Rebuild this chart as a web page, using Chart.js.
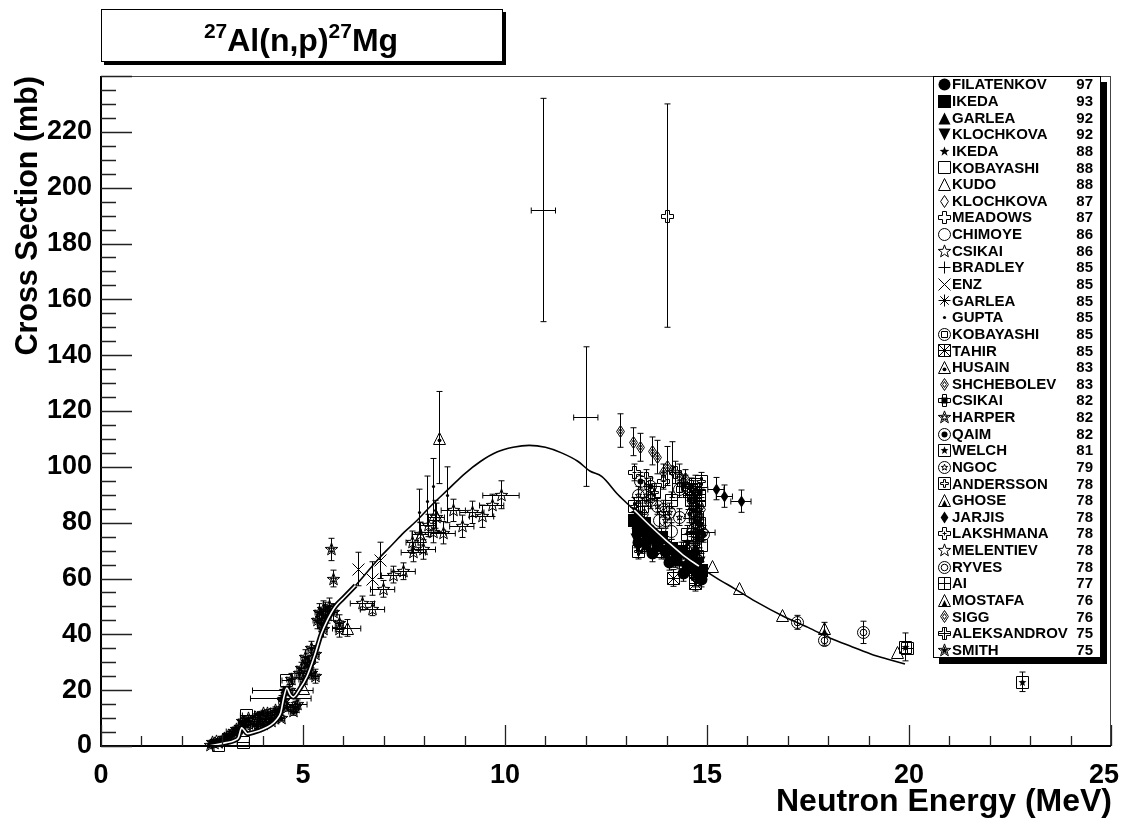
<!DOCTYPE html>
<html lang="en">
<head>
<meta charset="UTF-8">
<title>27Al(n,p)27Mg</title>
<script src="https://cdn.jsdelivr.net/npm/chart.js@4.4.0/dist/chart.umd.min.js"></script>
<style>
  html, body { margin: 0; padding: 0; background: #fff; }
  #wrap { position: relative; width: 1124px; height: 823px; }
</style>
</head>
<body>
<div id="wrap"><canvas id="xs" width="1124" height="823"></canvas></div>
<script>
// axes
const xTicks = [0, 5, 10, 15, 20, 25];
const yTicks = [0, 20, 40, 60, 80, 100, 120, 140, 160, 180, 200, 220];

// evaluated curve (MeV, mb)
const curveX = [2.65, 2.9, 3.1, 3.3, 3.4, 3.48, 3.55, 3.62, 3.8, 4.0, 4.2, 4.35, 4.45, 4.52, 4.6, 4.68, 4.76, 4.9, 5.1, 5.3, 5.45, 5.6, 5.8, 6.0, 6.3, 6.6, 6.9, 7.2, 7.5, 7.8, 8.2, 8.6, 9.0, 9.4, 9.8, 10.2, 10.6, 11.0, 11.4, 11.8, 12.1, 12.4, 12.8, 13.2, 13.6, 14.0, 14.4, 14.8, 15.2, 15.7, 16.2, 16.9, 17.5, 18.1, 18.6, 19.1, 19.5, 19.9];
const curveY = [0, 0.6, 1.2, 2.0, 3.0, 6.5, 5.5, 4.4, 5.0, 6.0, 7.5, 9.5, 12, 17, 20.8, 18.5, 17.5, 20, 25, 33, 40, 45, 50, 53, 57.5, 62.5, 67.5, 72, 76.5, 80.5, 86.5, 92, 97.5, 102, 105.3, 107, 107.7, 107, 105, 102, 98.5, 96.5, 90, 84.5, 78.8, 73.5, 68.5, 64.4, 60.5, 56.2, 51.8, 46.4, 42.5, 38.3, 35.5, 32.7, 31, 29.4];
// ranges where the curve is drawn doubled
const doubleRanges = [[2.65, 6.3], [13.1, 15.0]];

// measurements: [energy, sigma, dE, dSigma]
const filatenkov97 = [[13.4, 77, 0, 3], [13.55, 74, 0, 3], [13.75, 72, 0, 3], [13.95, 70, 0, 3], [14.2, 67, 0, 3], [14.5, 65, 0, 3], [14.75, 62, 0, 3], [13.3, 73, 0, 3], [13.65, 69, 0, 3], [14.05, 66, 0, 3], [14.4, 62, 0, 3], [14.85, 60, 0, 3]];
const ikeda93 = [[13.2, 81, 0, 3], [13.3, 78, 0, 3], [13.6, 76, 0, 3], [14.1, 71, 0, 3], [14.6, 68, 0, 3], [14.85, 63, 0, 3], [13.45, 80, 0, 3], [13.85, 75, 0, 3], [14.35, 70, 0, 3], [14.7, 64, 0, 3]];
const garlea92 = [[13.5, 72.5, 0, 3], [14.3, 66.5, 0, 3], [14.7, 71, 0, 3]];
const klochkova92 = [[13.25, 74, 0, 3], [14.0, 69, 0, 3], [14.8, 66, 0, 3]];
const ikeda88 = [[4.5, 20.1, 0.75, 1], [4.45, 17.1, 0.75, 1], [3.9, 11, 0.4, 1], [13.3, 84, 0, 3], [14.5, 73, 0, 3], [14.75, 76, 0, 3]];
const kobayashi88 = [[2.9, 0.5, 0.1, 0], [3.52, 1.5, 0.15, 0], [3.6, 11, 0.15, 0], [4.58, 23.6, 0.1, 0], [14.75, 82, 0, 4], [14.8, 90, 0, 4], [14.65, 75, 0, 3], [14.85, 72, 0, 3], [14.7, 94, 0, 3]];
const kudo88 = [[15.12, 64.5, 0, 0], [15.78, 56.6, 0, 0], [16.85, 47, 0, 0], [19.7, 33.5, 0, 0], [8.27, 83, 0, 5], [7.9, 75.2, 0, 5], [5.0, 20.7, 0, 0], [6.08, 42.3, 0.35, 3]];
const klochkova87 = [[13.45, 83, 0, 3], [14.7, 79, 0, 3], [14.85, 85, 0, 4], [14.65, 83, 0, 3], [14.8, 74, 0, 3]];
const meadows87 = [[14.0, 190, 0, 40], [14.7, 92, 0, 3]];
const chimoye86 = [[13.8, 81, 0, 3], [14.1, 77, 0, 3]];
const csikai86 = [[6.47, 51.2, 0.3, 2.5], [6.72, 49.2, 0.3, 2.5], [6.97, 56.3, 0.3, 3], [7.24, 61.4, 0.3, 3], [7.48, 62.6, 0.3, 3], [7.73, 69.5, 0.3, 3.5], [7.98, 70.4, 0.3, 3.5], [8.23, 76.8, 0.3, 4], [8.47, 76.4, 0.3, 4], [8.72, 84.4, 0.3, 4], [8.93, 78.7, 0.3, 4], [9.18, 83.7, 0.3, 4], [9.42, 82.3, 0.3, 4], [9.67, 86.2, 0.3, 4], [9.9, 90, 0.45, 5]];
const bradley85 = [[10.95, 192, 0.3, 40], [12.0, 118, 0.3, 25]];
const enz85 = [[6.35, 63.4, 0, 6], [6.7, 60, 0, 6], [6.9, 66.5, 0, 6.5]];
const garlea85 = [[14.6, 85, 0, 3], [14.8, 77, 0, 3], [14.7, 90, 0, 3]];
const gupta85 = [[7.86, 84, 0, 8], [8.06, 87.7, 0, 9], [8.23, 93, 0, 10], [8.56, 90, 0, 10]];
const kobayashi85 = [[14.3, 92, 0, 3], [14.65, 88, 0, 3]];
const tahir85 = [[14.17, 60.2, 0, 3], [14.7, 58.5, 0, 3], [13.6, 73, 0, 3], [13.85, 70, 0, 3], [14.75, 62, 0, 3], [13.4, 72, 0, 3]];
const husain83 = [[8.37, 110.5, 0, 16.5], [14.55, 84, 0, 4]];
const shchebolev83 = [[12.85, 113, 0, 6], [13.18, 109, 0, 5], [13.34, 107, 0, 5], [13.63, 105.7, 0, 5], [13.75, 103.5, 0, 6], [14.0, 100.3, 0, 7], [14.13, 99, 0, 10], [14.3, 97, 0, 4], [14.45, 93, 0, 4]];
const csikai82 = [[14.4, 94, 0, 3], [14.6, 93, 0, 3], [14.8, 91, 0, 3], [14.75, 74, 0, 3]];
const harper82 = [[2.85, 1.8, 0.1, 0.5], [3.05, 3.0, 0.1, 0.5], [3.3, 5.5, 0.2, 0.6], [3.55, 8.5, 0.15, 0.8], [3.8, 10.5, 0.15, 1], [4.0, 11.8, 0.2, 1], [4.2, 9.0, 0.2, 1], [4.4, 12.8, 0.1, 1.2], [4.75, 12.5, 0.1, 1.5], [4.85, 15, 0.25, 1.5], [4.95, 28, 0.1, 2], [5.1, 30, 0.1, 2], [5.2, 26, 0.1, 2], [5.3, 25, 0.1, 2.5], [5.35, 45, 0.1, 3], [5.5, 49, 0.1, 3], [5.7, 70.4, 0, 4], [5.75, 60, 0, 3]];
const qaim82 = [[13.35, 95, 0, 3], [13.6, 93, 0, 3], [14.7, 80.5, 0, 3], [14.9, 76, 0, 3], [14.65, 70, 0, 3], [14.85, 76.5, 0.35, 3], [14.75, 86, 0, 3], [14.6, 64, 0, 3]];
const welch81 = [[19.9, 35.5, 0, 5], [22.8, 23, 0, 3.5]];
const ngoc79 = [[13.5, 90, 0, 3], [13.75, 86, 0, 3], [13.95, 81, 0, 3], [14.05, 84, 0, 3], [13.3, 90, 0, 3], [13.6, 88, 0, 3], [14.3, 82, 0, 3]];
const andersson78 = [[14.7, 60, 0, 3], [14.4, 70, 0, 3], [14.85, 95, 0, 3], [13.3, 70, 0, 3], [13.2, 86, 0, 3], [13.7, 91, 0, 3], [14.6, 88, 0, 3], [14.8, 80, 0, 3], [14.75, 68, 0, 3]];
const ghose78 = [[14.7, 86, 0, 3], [14.8, 62, 0, 3]];
const jarjis78 = [[15.22, 92.2, 0.2, 4], [15.43, 89.5, 0.2, 4], [15.84, 87.7, 0.25, 4]];
const lakshmana78 = [[13.2, 98, 0, 3], [13.5, 96, 0, 3], [13.9, 95, 0, 3]];
const melentiev78 = [[5.45, 46, 0.1, 3], [5.55, 48.5, 0.1, 3], [5.9, 42, 0.1, 3], [7.7, 73, 0.15, 4], [7.9, 76, 0.2, 4], [8.1, 79, 0.2, 4], [8.3, 82, 0.2, 5]];
const ryves78 = [[17.22, 44.3, 0, 2.5], [17.9, 38.1, 0, 2], [18.85, 40.7, 0, 4], [13.9, 85, 0, 3]];
const ai77 = [[19.95, 35, 0, 0], [14.1, 88, 0, 3], [13.4, 86, 0, 3], [14.5, 76, 0, 3], [14.8, 88, 0, 3], [14.65, 91, 0, 3]];
const mostafa76 = [[17.9, 42.3, 0, 2], [14.6, 78, 0, 3]];
const sigg76 = [[14.8, 82, 0, 3], [14.45, 96, 0, 3], [14.7, 67, 0, 3], [13.9, 98, 0, 3]];
const aleksandrov75 = [[14.2, 98, 0, 4], [14.55, 90, 0, 4]];
const smith75 = [[2.7, 0.5, 0.05, 0.3], [2.8, 1.0, 0.05, 0.4], [2.9, 1.4, 0.05, 0.4], [3.0, 2.2, 0.05, 0.5], [3.1, 2.8, 0.05, 0.5], [3.2, 3.5, 0.1, 0.5], [3.3, 4.5, 0.1, 0.6], [3.45, 6.8, 0.1, 0.7], [3.6, 7.5, 0.1, 0.8], [3.75, 8.0, 0.1, 0.8], [3.9, 9.0, 0.1, 0.9], [4.05, 9.5, 0.1, 1], [4.2, 10.2, 0.1, 1], [4.35, 11.5, 0.1, 1], [4.5, 16, 0.1, 1.5], [4.65, 20, 0.1, 2], [4.8, 14, 0.1, 2], [5.0, 24, 0.1, 2], [5.15, 29, 0.1, 2.5], [5.3, 33, 0.1, 3], [5.45, 44, 0.1, 3], [5.6, 47, 0.1, 3], [5.75, 48, 0.1, 3], [5.9, 44, 0.1, 3],
  [2.75, 1.5, 0.05, 0.4], [3.15, 4, 0.1, 0.5], [3.35, 6, 0.1, 0.6], [3.5, 9, 0.1, 0.8], [3.65, 10, 0.1, 0.8], [3.85, 7, 0.1, 0.8], [4.0, 8, 0.1, 0.8], [4.1, 12, 0.1, 1], [4.3, 13, 0.1, 1], [4.45, 10, 0.1, 1], [4.6, 14, 0.1, 1.5], [4.7, 24, 0.1, 2], [4.9, 26, 0.1, 2], [5.05, 32, 0.1, 2.5], [5.2, 35, 0.1, 2.5], [5.4, 48, 0.1, 3], [5.5, 42, 0.1, 3], [5.65, 50, 0.1, 3]];

// legend order
const seriesData = [filatenkov97, ikeda93, garlea92, klochkova92, ikeda88, kobayashi88, kudo88, klochkova87, meadows87, chimoye86, csikai86, bradley85, enz85, garlea85, gupta85, kobayashi85, tahir85, husain83, shchebolev83, csikai82, harper82, qaim82, welch81, ngoc79, andersson78, ghose78, jarjis78, lakshmana78, melentiev78, ryves78, ai77, mostafa76, sigg76, aleksandrov75, smith75];
const seriesNames = ['FILATENKOV', 'IKEDA', 'GARLEA', 'KLOCHKOVA', 'IKEDA', 'KOBAYASHI', 'KUDO', 'KLOCHKOVA', 'MEADOWS', 'CHIMOYE', 'CSIKAI', 'BRADLEY', 'ENZ', 'GARLEA', 'GUPTA', 'KOBAYASHI', 'TAHIR', 'HUSAIN', 'SHCHEBOLEV', 'CSIKAI', 'HARPER', 'QAIM', 'WELCH', 'NGOC', 'ANDERSSON', 'GHOSE', 'JARJIS', 'LAKSHMANA', 'MELENTIEV', 'RYVES', 'AI', 'MOSTAFA', 'SIGG', 'ALEKSANDROV', 'SMITH'];
const seriesYears = ['97', '93', '92', '92', '88', '88', '88', '87', '87', '86', '86', '85', '85', '85', '85', '85', '85', '83', '83', '82', '82', '82', '81', '79', '78', '78', '78', '78', '78', '78', '77', '76', '76', '75', '75'];
const seriesMarkers = [
  ['circleF'], ['squareF'], ['triF'], ['triDownF'], ['starSmallF'], ['square'], ['tri'], ['diamond'],
  ['cross'], ['circle'], ['star'], ['plus'], ['x'], ['asterisk'], ['dot'], ['circle', 'squareIn'],
  ['square', 'asteriskIn'], ['tri', 'dotS'], ['diamond', 'diamondIn'], ['cross', 'squareSF'], ['star', 'starIn'],
  ['circle', 'circleS'], ['square', 'starSF'], ['circle', 'starIn'], ['square', 'crossIn'], ['tri', 'triSF'],
  ['diamondF'], ['cross', 'plusIn'], ['star'], ['circle', 'circleIn'], ['square', 'plus'], ['tri', 'triSF'],
  ['diamond', 'diamondIn'], ['cross', 'plus'], ['star', 'starSF']
];

const FONT = '"Liberation Sans", Arial, Helvetica, sans-serif';

function starPath(c, r, ri) {
  for (let k = 0; k < 10; k++) {
    const a = -Math.PI / 2 + k * Math.PI / 5;
    const rr = k % 2 ? ri : r;
    const px = rr * Math.cos(a), py = rr * Math.sin(a);
    if (k === 0) c.moveTo(px, py); else c.lineTo(px, py);
  }
  c.closePath();
}

function crossPath(c, r, w) {
  const p = [[-w, -r], [w, -r], [w, -w], [r, -w], [r, w], [w, w], [w, r], [-w, r], [-w, w], [-r, w], [-r, -w], [-w, -w]];
  p.forEach((q, i) => i ? c.lineTo(q[0], q[1]) : c.moveTo(q[0], q[1]));
  c.closePath();
}

function drawPrim(c, p, r) {
  c.beginPath();
  switch (p) {
    case 'circle': c.arc(0, 0, r, 0, 2 * Math.PI); c.stroke(); break;
    case 'circleF': c.arc(0, 0, r, 0, 2 * Math.PI); c.fill(); break;
    case 'circleIn': c.arc(0, 0, r * 0.55, 0, 2 * Math.PI); c.stroke(); break;
    case 'circleS': c.arc(0, 0, r * 0.5, 0, 2 * Math.PI); c.fill(); break;
    case 'square': c.rect(-r, -r, 2 * r, 2 * r); c.stroke(); break;
    case 'squareF': c.rect(-r - 0.5, -r - 0.5, 2 * r + 1, 2 * r + 1); c.fill(); break;
    case 'squareSF': c.rect(-3, -3, 6, 6); c.fill(); break;
    case 'squareIn': c.rect(-3, -3, 6, 6); c.stroke(); break;
    case 'tri': c.moveTo(0, -r); c.lineTo(r, r); c.lineTo(-r, r); c.closePath(); c.stroke(); break;
    case 'triF': c.moveTo(0, -r); c.lineTo(r, r); c.lineTo(-r, r); c.closePath(); c.fill(); break;
    case 'triDownF': c.moveTo(0, r); c.lineTo(r, -r); c.lineTo(-r, -r); c.closePath(); c.fill(); break;
    case 'triSF': c.moveTo(0, -r * 0.1); c.lineTo(r * 0.5, r); c.lineTo(-r * 0.5, r); c.closePath(); c.fill(); break;
    case 'dotS': c.arc(0, r * 0.3, r * 0.32, 0, 2 * Math.PI); c.fill(); break;
    case 'diamond': c.moveTo(0, -r); c.lineTo(r * 0.65, 0); c.lineTo(0, r); c.lineTo(-r * 0.65, 0); c.closePath(); c.stroke(); break;
    case 'diamondF': c.moveTo(0, -r); c.lineTo(r * 0.65, 0); c.lineTo(0, r); c.lineTo(-r * 0.65, 0); c.closePath(); c.fill(); break;
    case 'diamondIn': c.moveTo(0, -r * 0.5); c.lineTo(r * 0.32, 0); c.lineTo(0, r * 0.5); c.lineTo(-r * 0.32, 0); c.closePath(); c.stroke(); break;
    case 'star': starPath(c, r * 1.1, r * 0.45); c.stroke(); break;
    case 'starIn': starPath(c, r * 0.55, r * 0.23); c.stroke(); break;
    case 'starSF': starPath(c, r * 0.7, r * 0.3); c.fill(); break;
    case 'starSmallF': starPath(c, r * 0.85, r * 0.35); c.fill(); break;
    case 'cross': crossPath(c, r, 2); c.stroke(); break;
    case 'crossIn': crossPath(c, r * 0.65, 1); c.stroke(); break;
    case 'plus': c.moveTo(-r, 0); c.lineTo(r, 0); c.moveTo(0, -r); c.lineTo(0, r); c.stroke(); break;
    case 'plusIn': c.moveTo(-2, 0); c.lineTo(2, 0); c.moveTo(0, -2); c.lineTo(0, 2); c.stroke(); break;
    case 'x': c.moveTo(-r, -r); c.lineTo(r, r); c.moveTo(r, -r); c.lineTo(-r, r); c.stroke(); break;
    case 'asterisk':
      c.moveTo(-r, 0); c.lineTo(r, 0); c.moveTo(0, -r); c.lineTo(0, r);
      c.moveTo(-r * 0.7, -r * 0.7); c.lineTo(r * 0.7, r * 0.7); c.moveTo(r * 0.7, -r * 0.7); c.lineTo(-r * 0.7, r * 0.7); c.stroke(); break;
    case 'asteriskIn':
      c.moveTo(-r, 0); c.lineTo(r, 0); c.moveTo(0, -r); c.lineTo(0, r);
      c.moveTo(-r, -r); c.lineTo(r, r); c.moveTo(r, -r); c.lineTo(-r, r); c.stroke(); break;
    case 'dot': c.arc(0, 0, 1.6, 0, 2 * Math.PI); c.fill(); break;
  }
}

// odd-sized canvas so that 1px strokes land on whole pixels
function makeMarker(parts, r) {
  const s = 2 * r + 5;
  const cv = document.createElement('canvas');
  cv.width = s; cv.height = s;
  const c = cv.getContext('2d');
  c.translate(s / 2, s / 2);
  c.strokeStyle = '#000'; c.fillStyle = '#000'; c.lineWidth = 1;
  parts.forEach(p => drawPrim(c, p, r));
  return cv;
}

const markerImgs = seriesMarkers.map(m => makeMarker(m, 6));

// curve datasets
const curvePts = curveX.map((x, i) => ({ x, y: curveY[i] }));
const doublePts = curveX.map((x, i) => ({
  x, y: doubleRanges.some(r => x >= r[0] && x <= r[1]) ? curveY[i] : null
}));

const datasets = [
  { type: 'line', data: doublePts, borderColor: '#fff', borderWidth: 1.6, pointRadius: 0, cubicInterpolationMode: 'monotone', order: 0 },
  { type: 'line', data: doublePts, borderColor: '#000', borderWidth: 5, pointRadius: 0, cubicInterpolationMode: 'monotone', order: 1 },
  { type: 'line', data: curvePts, borderColor: '#000', borderWidth: 1.6, pointRadius: 0, cubicInterpolationMode: 'monotone', order: 2 }
];
seriesData.forEach((arr, i) => {
  datasets.push({
    type: 'scatter',
    label: seriesNames[i] + ' ' + seriesYears[i],
    data: arr.map(p => ({ x: p[0], y: p[1], ex: p[2], ey: p[3] })),
    pointStyle: false,
    markerImg: markerImgs[i],
    errorBars: true,
    order: 10 + i
  });
});

// error bars under the markers, then markers snapped to whole pixels
const errorBarPlugin = {
  id: 'errorBars',
  beforeDatasetsDraw(chart) {
    const c = chart.ctx, xs = chart.scales.x, ys = chart.scales.y;
    c.save();
    c.strokeStyle = '#000';
    c.lineWidth = 1;
    chart.data.datasets.forEach(ds => {
      if (!ds.errorBars) return;
      ds.data.forEach(p => {
        const px = Math.round(xs.getPixelForValue(p.x)) + 0.5, py = Math.round(ys.getPixelForValue(p.y)) + 0.5;
        c.beginPath();
        if (p.ex > 0) {
          const x0 = xs.getPixelForValue(p.x - p.ex), x1 = xs.getPixelForValue(p.x + p.ex);
          c.moveTo(x0, py); c.lineTo(x1, py);
          c.moveTo(x0, py - 3); c.lineTo(x0, py + 3);
          c.moveTo(x1, py - 3); c.lineTo(x1, py + 3);
        }
        if (p.ey > 0) {
          const y0 = ys.getPixelForValue(p.y - p.ey), y1 = ys.getPixelForValue(p.y + p.ey);
          c.moveTo(px, y0); c.lineTo(px, y1);
          c.moveTo(px - 3, y0); c.lineTo(px + 3, y0);
          c.moveTo(px - 3, y1); c.lineTo(px + 3, y1);
        }
        c.stroke();
      });
    });
    c.restore();
  },
  afterDatasetDraw(chart, args) {
    const ds = chart.data.datasets[args.index];
    if (!ds.markerImg) return;
    const img = ds.markerImg, h = (img.width - 1) / 2;
    args.meta.data.forEach(el => {
      chart.ctx.drawImage(img, Math.round(el.x) - h, Math.round(el.y) - h);
    });
  }
};

function shadowBox(c, x, y, w, h, off) {
  c.fillStyle = '#000';
  c.fillRect(x + off, y + off, w, h);
  c.fillStyle = '#fff';
  c.fillRect(x, y, w, h);
  c.strokeStyle = '#000';
  c.lineWidth = 1;
  c.strokeRect(x + 0.5, y + 0.5, w - 1, h - 1);
}

// ROOT-like frame, ticks, titles and legend
const frameTitlePlugin = {
  id: 'frameTitle',
  afterDraw(chart) {
    const c = chart.ctx, a = chart.chartArea, xs = chart.scales.x, ys = chart.scales.y;
    c.save();

    // frame
    c.strokeStyle = '#444'; c.lineWidth = 1;
    c.strokeRect(a.left + 0.5, a.top + 0.5, a.right - a.left - 1, a.bottom - a.top - 1);
    c.strokeStyle = '#000'; c.lineWidth = 2;
    c.beginPath();
    c.moveTo(a.left, a.top); c.lineTo(a.left, a.bottom); c.lineTo(a.right, a.bottom);
    c.stroke();

    // ticks
    c.strokeStyle = '#222'; c.lineWidth = 1.3;
    c.beginPath();
    for (let v = 0; v <= 240; v += 5) {
      const py = Math.round(ys.getPixelForValue(v)) + 0.5;
      const len = v % 20 === 0 ? 31 : 15;
      c.moveTo(a.left, py); c.lineTo(a.left + len, py);
    }
    for (let v = 0; v <= 25; v += 1) {
      const px = Math.round(xs.getPixelForValue(v)) + 0.5;
      const len = v % 5 === 0 ? 21 : 10;
      c.moveTo(px, a.bottom); c.lineTo(px, a.bottom - len);
    }
    c.stroke();

    // tick labels
    c.fillStyle = '#000';
    c.font = 'bold 27px ' + FONT;
    c.textAlign = 'right'; c.textBaseline = 'middle';
    yTicks.forEach(v => c.fillText(String(v), 92, ys.getPixelForValue(v)));
    c.textAlign = 'center';
    xTicks.forEach(v => {
      const half = c.measureText(String(v)).width / 2;
      const px = Math.min(xs.getPixelForValue(v), 1119 - half);
      c.fillText(String(v), px, 776);
    });

    // axis titles
    c.font = 'bold 32px ' + FONT;
    c.textAlign = 'right'; c.textBaseline = 'alphabetic';
    c.fillText('Neutron Energy (MeV)', a.right + 1, 811);
    c.font = 'bold 30.5px ' + FONT;
    c.save();
    c.translate(37, a.top);
    c.rotate(-Math.PI / 2);
    c.textAlign = 'right';
    c.fillText('Cross Section (mb)', 0, 0);
    c.restore();

    // title box
    shadowBox(c, 101, 9, 402, 53, 3);
    const big = 'bold 32px ' + FONT, sup = 'bold 21px ' + FONT;
    const parts = [['27', sup, -13], ['Al(n,p)', big, 0], ['27', sup, -13], ['Mg', big, 0]];
    let tw = 0;
    parts.forEach(p => { c.font = p[1]; tw += c.measureText(p[0]).width; });
    let tx = 301 - tw / 2;
    c.textAlign = 'left'; c.textBaseline = 'alphabetic'; c.fillStyle = '#000';
    parts.forEach(p => { c.font = p[1]; c.fillText(p[0], tx, 51 + p[2]); tx += c.measureText(p[0]).width; });

    // legend box
    const lx = 933, ly = 76, lw = 168, lh = 582;
    shadowBox(c, lx, ly, lw, lh, 6);
    const step = lh / seriesNames.length;
    c.font = 'bold 15px ' + FONT;
    c.fillStyle = '#000';
    c.textBaseline = 'middle';
    seriesNames.forEach((name, i) => {
      const cy = ly + step * (i + 0.5);
      const img = markerImgs[i], h = (img.width - 1) / 2;
      c.drawImage(img, 944 - h, Math.round(cy) - h);
      c.textAlign = 'left';
      c.fillText(name, 952, cy + 1);
      c.textAlign = 'right';
      c.fillText(seriesYears[i], 1093, cy + 1);
    });

    c.restore();
  }
};

new Chart(document.getElementById('xs'), {
  type: 'scatter',
  data: { datasets },
  options: {
    responsive: false,
    devicePixelRatio: 1,
    animation: false,
    layout: { padding: { left: 101, top: 76, right: 13, bottom: 77 } },
    scales: {
      x: { type: 'linear', min: 0, max: 25, display: false },
      y: { type: 'linear', min: 0, max: 240, display: false }
    },
    plugins: { legend: { display: false }, tooltip: { enabled: false } }
  },
  plugins: [errorBarPlugin, frameTitlePlugin]
});
</script>
</body>
</html>
